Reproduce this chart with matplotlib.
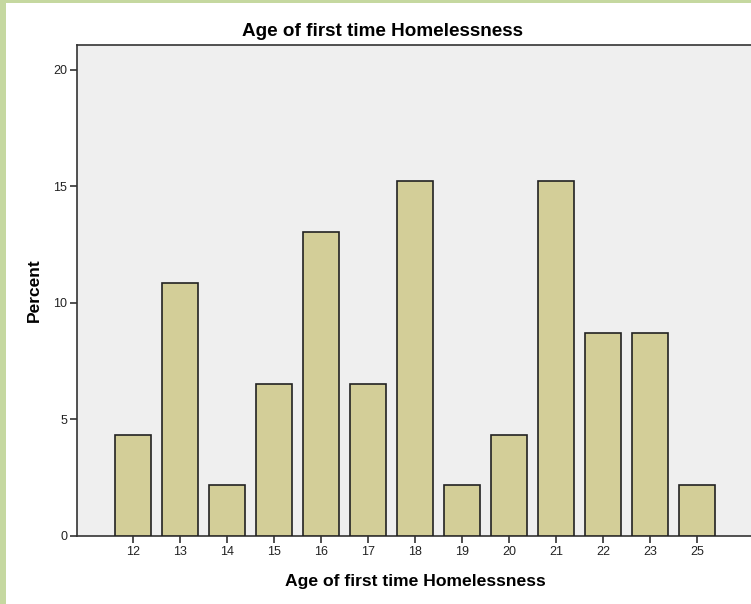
import matplotlib
matplotlib.use("Agg")
import matplotlib.pyplot as plt
import matplotlib.patches as mpatches

ages = ["12", "13", "14", "15", "16", "17", "18", "19", "20", "21", "22", "23", "25"]
percent = [4.35, 10.87, 2.17, 6.52, 13.04, 6.52, 15.22, 2.17, 4.35, 15.22, 8.70, 8.70, 2.17]
yticks = [0, 5, 10, 15, 20]

plt.rcParams['font.family'] = ['Liberation Sans', 'DejaVu Sans']

W, H = 751, 604
fig = plt.figure(figsize=(W / 100, H / 100), dpi=100)
fig.patch.set_facecolor('white')

# green frame on left and top
fig.add_artist(mpatches.Rectangle((0, 0), 6 / W, 1, transform=fig.transFigure,
                                  facecolor='#C5D8A0', edgecolor='none', zorder=10))
fig.add_artist(mpatches.Rectangle((0, 1 - 3 / H), 1, 3 / H, transform=fig.transFigure,
                                  facecolor='#C5D8A0', edgecolor='none', zorder=10))

left, right, top, bottom = 77, 753, 45, 536
ax = fig.add_axes([left / W, (H - bottom) / H, (right - left) / W, (bottom - top) / H])
ax.set_facecolor('#EFEFEF')

x = list(range(len(ages)))
ax.bar(x, percent, width=0.76, color='#D3CE98', edgecolor='#222222', linewidth=1.2, zorder=3)

ax.set_xlim(-1.19, 13.19)
ax.set_ylim(0, 21.07)
ax.set_xticks(x)
ax.set_xticklabels(ages)
ax.set_yticks(yticks)
ax.tick_params(axis='both', direction='out', length=5, width=1.2, color='#333333',
               labelsize=9, labelcolor='#222222', pad=2)

for s in ['left', 'bottom', 'top']:
    ax.spines[s].set_color('#333333')
    ax.spines[s].set_linewidth(1.2)
ax.spines['right'].set_visible(False)

fig.text(383 / W, 1 - 31 / H, 'Age of first time Homelessness', fontsize=13.6,
         fontweight='bold', ha='center', va='center')
ax.set_xlabel('Age of first time Homelessness', fontsize=12.6, fontweight='bold', labelpad=12)
ax.set_ylabel('Percent', fontsize=12.5, fontweight='bold', labelpad=8)

fig.savefig('out.png', dpi=100)
